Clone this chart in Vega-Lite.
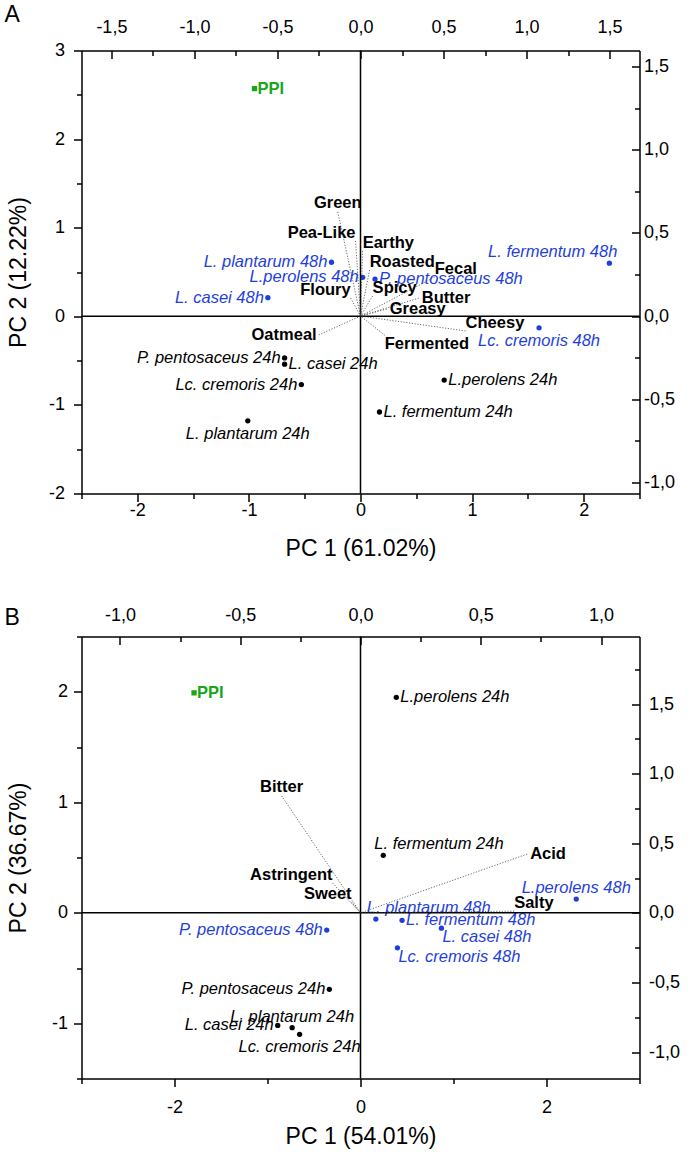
{
  "$schema": "https://vega.github.io/schema/vega-lite/v6.json",
  "padding": {"top": 3.5, "left": 3.5, "right": 0, "bottom": 0},
  "background": "white",
  "spacing": 43,
  "config": {
    "view": {"stroke": null},
    "font": "Liberation Sans",
    "axis": {
      "grid": false,
      "domainColor": "black",
      "domainWidth": 1.5,
      "tickColor": "black",
      "tickWidth": 1.5,
      "labelFont": "Liberation Sans",
      "labelFontSize": 18,
      "labelColor": "black",
      "labelOverlap": false,
      "labelFlush": false,
      "titleFont": "Liberation Sans",
      "titleFontSize": 23,
      "titleFontWeight": "normal",
      "titleColor": "black"
    },
    "title": {"font": "Liberation Sans", "fontSize": 23, "fontWeight": "normal", "color": "black", "anchor": "start", "frame": "bounds"}
  },
  "datasets": {
    "scoresA": [
      {"name": "PPI", "pc1": -0.95, "pc2": 2.57, "grp": "PPI", "side": "R"},
      {"name": "L. plantarum 48h", "pc1": -0.26, "pc2": 0.61, "grp": "48h", "side": "L"},
      {"name": "L.perolens 48h", "pc1": 0.02, "pc2": 0.44, "grp": "48h", "side": "L"},
      {"name": "P. pentosaceus 48h", "pc1": 0.13, "pc2": 0.42, "grp": "48h", "side": "R"},
      {"name": "L. casei 48h", "pc1": -0.83, "pc2": 0.21, "grp": "48h", "side": "L"},
      {"name": "L. fermentum 48h", "pc1": 2.23, "pc2": 0.6, "grp": "48h", "side": "TL"},
      {"name": "Lc. cremoris 48h", "pc1": 1.6, "pc2": -0.13, "grp": "48h", "side": "B"},
      {"name": "P. pentosaceus 24h", "pc1": -0.68, "pc2": -0.47, "grp": "24h", "side": "L"},
      {"name": "L. casei 24h", "pc1": -0.68, "pc2": -0.54, "grp": "24h", "side": "R"},
      {"name": "Lc. cremoris 24h", "pc1": -0.53, "pc2": -0.77, "grp": "24h", "side": "L"},
      {"name": "L. plantarum 24h", "pc1": -1.01, "pc2": -1.18, "grp": "24h", "side": "B"},
      {"name": "L.perolens 24h", "pc1": 0.75, "pc2": -0.72, "grp": "24h", "side": "R"},
      {"name": "L. fermentum 24h", "pc1": 0.17, "pc2": -1.08, "grp": "24h", "side": "R"}
    ],
    "loadA": [
      {"attr": "Green", "l1": -0.137, "l2": 0.627, "side": "T"},
      {"attr": "Pea-Like", "l1": -0.03, "l2": 0.452, "side": "TL"},
      {"attr": "Earthy", "l1": 0.013, "l2": 0.392, "side": "TR"},
      {"attr": "Roasted", "l1": 0.055, "l2": 0.277, "side": "TR"},
      {"attr": "Fecal", "l1": 0.447, "l2": 0.235, "side": "TR"},
      {"attr": "Floury", "l1": -0.059, "l2": 0.108, "side": "TL"},
      {"attr": "Spicy", "l1": 0.073, "l2": 0.12, "side": "TR"},
      {"attr": "Butter", "l1": 0.351, "l2": 0.108, "side": "R"},
      {"attr": "Greasy", "l1": 0.158, "l2": 0.042, "side": "R"},
      {"attr": "Cheesy", "l1": 0.633, "l2": -0.09, "side": "TR"},
      {"attr": "Fermented", "l1": 0.146, "l2": -0.115, "side": "BR"},
      {"attr": "Oatmeal", "l1": -0.252, "l2": -0.114, "side": "L"}
    ],
    "scoresB": [
      {"name": "PPI", "pc1": -1.79, "pc2": 1.99, "grp": "PPI", "side": "R"},
      {"name": "L.perolens 24h", "pc1": 0.385, "pc2": 1.95, "grp": "24h", "side": "R"},
      {"name": "L. fermentum 24h", "pc1": 0.245, "pc2": 0.52, "grp": "24h", "side": "TR"},
      {"name": "L. plantarum 48h", "pc1": 0.165, "pc2": -0.057, "grp": "48h", "side": "TR"},
      {"name": "L. fermentum 48h", "pc1": 0.447, "pc2": -0.069, "grp": "48h", "side": "R"},
      {"name": "L. casei 48h", "pc1": 0.87, "pc2": -0.14, "grp": "48h", "side": "BR"},
      {"name": "Lc. cremoris 48h", "pc1": 0.397, "pc2": -0.317, "grp": "48h", "side": "BR"},
      {"name": "L.perolens 48h", "pc1": 2.32, "pc2": 0.124, "grp": "48h", "side": "T"},
      {"name": "P. pentosaceus 48h", "pc1": -0.363, "pc2": -0.157, "grp": "48h", "side": "L"},
      {"name": "P. pentosaceus 24h", "pc1": -0.335, "pc2": -0.693, "grp": "24h", "side": "L"},
      {"name": "L. plantarum 24h", "pc1": -0.735, "pc2": -1.04, "grp": "24h", "side": "T"},
      {"name": "L. casei 24h", "pc1": -0.89, "pc2": -1.02, "grp": "24h", "side": "L"},
      {"name": "Lc. cremoris 24h", "pc1": -0.655, "pc2": -1.1, "grp": "24h", "side": "B"}
    ],
    "loadB": [
      {"attr": "Bitter", "l1": -0.328, "l2": 0.84, "side": "T"},
      {"attr": "Astringent", "l1": -0.116, "l2": 0.214, "side": "TL"},
      {"attr": "Sweet", "l1": -0.037, "l2": 0.077, "side": "TL"},
      {"attr": "Acid", "l1": 0.693, "l2": 0.422, "side": "R"},
      {"attr": "Salty", "l1": 0.639, "l2": 0.012, "side": "TR"}
    ]
  },
  "vconcat": [
    {
      "width": 558,
      "height": 443,
      "title": {"text": "A", "dx": -3.5, "offset": -11},
      "resolve": {"scale": {"x": "independent", "y": "independent"}},
      "layer": [
        {
          "data": {"name": "scoresA"},
          "layer": [
            {
              "mark": {"type": "point", "filled": true, "size": 28, "opacity": 1},
              "encoding": {
                "x": {"field": "pc1", "type": "quantitative", "scale": {"domain": [-2.5, 2.5], "nice": false, "zero": false},
                  "axis": {"orient": "bottom", "title": "PC 1 (61.02%)", "values": [-2.5, -2, -1.5, -1, -0.5, 0, 0.5, 1, 1.5, 2, 2.5],
                    "labelExpr": "abs(datum.value - round(datum.value)) < 0.01 ? replace(format(datum.value, 'd'), '\u2212', '-') : ''",
                    "tickSize": {"condition": {"test": "abs(datum.value - round(datum.value)) < 0.01", "value": 8}, "value": 5},
                    "labelPadding": 0, "titlePadding": 18}},
                "y": {"field": "pc2", "type": "quantitative", "scale": {"domain": [-2, 3], "nice": false, "zero": false},
                  "axis": {"orient": "left", "title": "PC 2 (12.22%)", "values": [-2, -1.5, -1, -0.5, 0, 0.5, 1, 1.5, 2, 2.5, 3],
                    "labelExpr": "abs(datum.value - round(datum.value)) < 0.01 ? replace(format(datum.value, 'd'), '\u2212', '-') : ''",
                    "tickSize": {"condition": {"test": "abs(datum.value - round(datum.value)) < 0.01", "value": 8}, "value": 5},
                    "labelPadding": 9, "titlePadding": 17.5}},
                "color": {"field": "grp", "type": "nominal", "scale": {"domain": ["24h", "48h", "PPI"], "range": ["#000000", "#1f3fdc", "#1aa51a"]}, "legend": null},
                "shape": {"field": "grp", "type": "nominal", "scale": {"domain": ["24h", "48h", "PPI"], "range": ["circle", "circle", "square"]}, "legend": null}
              }
            },
            {
              "transform": [{"filter": "datum.grp != 'PPI'"}],
              "mark": {"type": "text", "fontSize": 16.5, "fontStyle": "italic",
                "align": {"expr": "(datum.side == 'L' || datum.side == 'TL' || datum.side == 'BL') ? 'right' : ((datum.side == 'R' || datum.side == 'TR' || datum.side == 'BR') ? 'left' : 'center')"},
                "baseline": {"expr": "(datum.side == 'T' || datum.side == 'TL' || datum.side == 'TR') ? 'bottom' : ((datum.side == 'B' || datum.side == 'BL' || datum.side == 'BR') ? 'top' : 'middle')"},
                "dx": {"expr": "datum.side == 'L' ? -4 : datum.side == 'R' ? 4 : datum.side == 'TL' ? 8 : datum.side == 'TR' ? -9 : datum.side == 'BR' ? 1 : 0"},
                "dy": {"expr": "(datum.side == 'T' || datum.side == 'TL' || datum.side == 'TR') ? -3 : datum.side == 'B' ? 5 : datum.side == 'BR' ? 1 : 0"}},
              "encoding": {
                "x": {"field": "pc1", "type": "quantitative"},
                "y": {"field": "pc2", "type": "quantitative"},
                "text": {"field": "name", "type": "nominal"},
                "color": {"field": "grp", "type": "nominal", "legend": null}
              }
            },
            {
              "transform": [{"filter": "datum.grp == 'PPI'"}],
              "mark": {"type": "text", "fontSize": 16.5, "fontWeight": "bold", "align": "left", "baseline": "middle", "dx": 3},
              "encoding": {
                "x": {"field": "pc1", "type": "quantitative"},
                "y": {"field": "pc2", "type": "quantitative"},
                "text": {"field": "name", "type": "nominal"},
                "color": {"field": "grp", "type": "nominal", "legend": null}
              }
            },
            {
              "data": {"values": [{"z": 0}]},
              "mark": {"type": "rule", "color": "black", "strokeWidth": 1.5},
              "encoding": {"x": {"field": "z", "type": "quantitative"}}
            },
            {
              "data": {"values": [{"z": 0}]},
              "mark": {"type": "rule", "color": "black", "strokeWidth": 1.5},
              "encoding": {"y": {"field": "z", "type": "quantitative"}}
            }
          ]
        },
        {
          "data": {"name": "loadA"},
          "layer": [
            {
              "mark": {"type": "rule", "color": "#444444", "strokeWidth": 0.8, "strokeDash": [1.2, 1.6]},
              "encoding": {
                "x": {"field": "l1", "type": "quantitative"},
                "y": {"field": "l2", "type": "quantitative"},
                "x2": {"datum": 0},
                "y2": {"datum": 0}
              }
            },
            {
              "mark": {"type": "text", "fontSize": 16.5, "fontWeight": "bold", "color": "black",
                "align": {"expr": "(datum.side == 'L' || datum.side == 'TL' || datum.side == 'BL') ? 'right' : ((datum.side == 'R' || datum.side == 'TR' || datum.side == 'BR') ? 'left' : 'center')"},
                "baseline": {"expr": "(datum.side == 'T' || datum.side == 'TL' || datum.side == 'TR') ? 'bottom' : ((datum.side == 'B' || datum.side == 'BL' || datum.side == 'BR') ? 'top' : 'middle')"},
                "dx": {"expr": "datum.side == 'L' ? -2 : datum.side == 'R' ? 3 : 0"},
                "dy": {"expr": "(datum.side == 'T') ? -1 : (datum.side == 'B' || datum.side == 'BR') ? 1 : 0"}},
              "encoding": {
                "x": {"field": "l1", "type": "quantitative", "scale": {"domain": [-1.68, 1.68], "nice": false, "zero": false},
                  "axis": {"orient": "top", "title": null, "values": [-1.5, -1.25, -1, -0.75, -0.5, -0.25, 0, 0.25, 0.5, 0.75, 1, 1.25, 1.5],
                    "labelExpr": "abs(datum.value * 2 - round(datum.value * 2)) < 0.01 ? replace(replace(format(datum.value, '.1f'), '\u2212', '-'), '.', ',') : ''",
                    "tickSize": {"condition": {"test": "abs(datum.value * 2 - round(datum.value * 2)) < 0.01", "value": -8}, "value": -5},
                    "labelPadding": 22}},
                "y": {"field": "l2", "type": "quantitative", "scale": {"domain": [-1.068, 1.598], "nice": false, "zero": false},
                  "axis": {"orient": "right", "title": null, "values": [-1, -0.75, -0.5, -0.25, 0, 0.25, 0.5, 0.75, 1, 1.25, 1.5],
                    "labelExpr": "abs(datum.value * 2 - round(datum.value * 2)) < 0.01 ? replace(replace(format(datum.value, '.1f'), '\u2212', '-'), '.', ',') : ''",
                    "tickSize": {"condition": {"test": "abs(datum.value * 2 - round(datum.value * 2)) < 0.01", "value": -8}, "value": -5},
                    "labelPadding": 12}},
                "text": {"field": "attr", "type": "nominal"}
              }
            }
          ]
        }
      ]
    },
    {
      "width": 558,
      "height": 442,
      "title": {"text": "B", "dx": -3.5, "offset": -26},
      "resolve": {"scale": {"x": "independent", "y": "independent"}},
      "layer": [
        {
          "data": {"name": "scoresB"},
          "layer": [
            {
              "mark": {"type": "point", "filled": true, "size": 28, "opacity": 1},
              "encoding": {
                "x": {"field": "pc1", "type": "quantitative", "scale": {"domain": [-3, 3], "nice": false, "zero": false},
                  "axis": {"orient": "bottom", "title": "PC 1 (54.01%)", "values": [-3, -2, -1, 0, 1, 2, 3],
                    "labelExpr": "abs(datum.value) % 2 < 0.01 ? replace(format(datum.value, 'd'), '\u2212', '-') : ''",
                    "tickSize": {"condition": {"test": "abs(datum.value) % 2 < 0.01", "value": 8}, "value": 5},
                    "labelPadding": 11.5, "titlePadding": 9.5}},
                "y": {"field": "pc2", "type": "quantitative", "scale": {"domain": [-1.5, 2.5], "nice": false, "zero": false},
                  "axis": {"orient": "left", "title": "PC 2 (36.67%)", "values": [-1.5, -1, -0.5, 0, 0.5, 1, 1.5, 2, 2.5],
                    "labelExpr": "abs(datum.value - round(datum.value)) < 0.01 ? replace(format(datum.value, 'd'), '\u2212', '-') : ''",
                    "tickSize": {"condition": {"test": "abs(datum.value - round(datum.value)) < 0.01", "value": 8}, "value": 5},
                    "labelPadding": 6, "titlePadding": 20.5}},
                "color": {"field": "grp", "type": "nominal", "scale": {"domain": ["24h", "48h", "PPI"], "range": ["#000000", "#1f3fdc", "#1aa51a"]}, "legend": null},
                "shape": {"field": "grp", "type": "nominal", "scale": {"domain": ["24h", "48h", "PPI"], "range": ["circle", "circle", "square"]}, "legend": null}
              }
            },
            {
              "transform": [{"filter": "datum.grp != 'PPI'"}],
              "mark": {"type": "text", "fontSize": 16.5, "fontStyle": "italic",
                "align": {"expr": "(datum.side == 'L' || datum.side == 'TL' || datum.side == 'BL') ? 'right' : ((datum.side == 'R' || datum.side == 'TR' || datum.side == 'BR') ? 'left' : 'center')"},
                "baseline": {"expr": "(datum.side == 'T' || datum.side == 'TL' || datum.side == 'TR') ? 'bottom' : ((datum.side == 'B' || datum.side == 'BL' || datum.side == 'BR') ? 'top' : 'middle')"},
                "dx": {"expr": "datum.side == 'L' ? -4 : datum.side == 'R' ? 4 : datum.side == 'TL' ? 8 : datum.side == 'TR' ? -9 : datum.side == 'BR' ? 1 : 0"},
                "dy": {"expr": "(datum.side == 'T' || datum.side == 'TL' || datum.side == 'TR') ? -3 : datum.side == 'B' ? 5 : datum.side == 'BR' ? 1 : 0"}},
              "encoding": {
                "x": {"field": "pc1", "type": "quantitative"},
                "y": {"field": "pc2", "type": "quantitative"},
                "text": {"field": "name", "type": "nominal"},
                "color": {"field": "grp", "type": "nominal", "legend": null}
              }
            },
            {
              "transform": [{"filter": "datum.grp == 'PPI'"}],
              "mark": {"type": "text", "fontSize": 16.5, "fontWeight": "bold", "align": "left", "baseline": "middle", "dx": 3},
              "encoding": {
                "x": {"field": "pc1", "type": "quantitative"},
                "y": {"field": "pc2", "type": "quantitative"},
                "text": {"field": "name", "type": "nominal"},
                "color": {"field": "grp", "type": "nominal", "legend": null}
              }
            },
            {
              "data": {"values": [{"z": 0}]},
              "mark": {"type": "rule", "color": "black", "strokeWidth": 1.5},
              "encoding": {"x": {"field": "z", "type": "quantitative"}}
            },
            {
              "data": {"values": [{"z": 0}]},
              "mark": {"type": "rule", "color": "black", "strokeWidth": 1.5},
              "encoding": {"y": {"field": "z", "type": "quantitative"}}
            }
          ]
        },
        {
          "data": {"name": "loadB"},
          "layer": [
            {
              "mark": {"type": "rule", "color": "#444444", "strokeWidth": 0.8, "strokeDash": [1.2, 1.6]},
              "encoding": {
                "x": {"field": "l1", "type": "quantitative"},
                "y": {"field": "l2", "type": "quantitative"},
                "x2": {"datum": 0},
                "y2": {"datum": 0}
              }
            },
            {
              "mark": {"type": "text", "fontSize": 16.5, "fontWeight": "bold", "color": "black",
                "align": {"expr": "(datum.side == 'L' || datum.side == 'TL' || datum.side == 'BL') ? 'right' : ((datum.side == 'R' || datum.side == 'TR' || datum.side == 'BR') ? 'left' : 'center')"},
                "baseline": {"expr": "(datum.side == 'T' || datum.side == 'TL' || datum.side == 'TR') ? 'bottom' : ((datum.side == 'B' || datum.side == 'BL' || datum.side == 'BR') ? 'top' : 'middle')"},
                "dx": {"expr": "datum.side == 'L' ? -2 : datum.side == 'R' ? 3 : 0"},
                "dy": {"expr": "(datum.side == 'T') ? -1 : (datum.side == 'B' || datum.side == 'BR') ? 1 : 0"}},
              "encoding": {
                "x": {"field": "l1", "type": "quantitative", "scale": {"domain": [-1.16, 1.16], "nice": false, "zero": false},
                  "axis": {"orient": "top", "title": null, "values": [-1, -0.75, -0.5, -0.25, 0, 0.25, 0.5, 0.75, 1],
                    "labelExpr": "abs(datum.value * 2 - round(datum.value * 2)) < 0.01 ? replace(replace(format(datum.value, '.1f'), '\u2212', '-'), '.', ',') : ''",
                    "tickSize": {"condition": {"test": "abs(datum.value * 2 - round(datum.value * 2)) < 0.01", "value": -8}, "value": -5},
                    "labelPadding": 20}},
                "y": {"field": "l2", "type": "quantitative", "scale": {"domain": [-1.19, 1.985], "nice": false, "zero": false},
                  "axis": {"orient": "right", "title": null, "values": [-1, -0.75, -0.5, -0.25, 0, 0.25, 0.5, 0.75, 1, 1.25, 1.5, 1.75],
                    "labelExpr": "abs(datum.value * 2 - round(datum.value * 2)) < 0.01 ? replace(replace(format(datum.value, '.1f'), '\u2212', '-'), '.', ',') : ''",
                    "tickSize": {"condition": {"test": "abs(datum.value * 2 - round(datum.value * 2)) < 0.01", "value": -8}, "value": -5},
                    "labelPadding": 17}},
                "text": {"field": "attr", "type": "nominal"}
              }
            }
          ]
        }
      ]
    }
  ]
}
